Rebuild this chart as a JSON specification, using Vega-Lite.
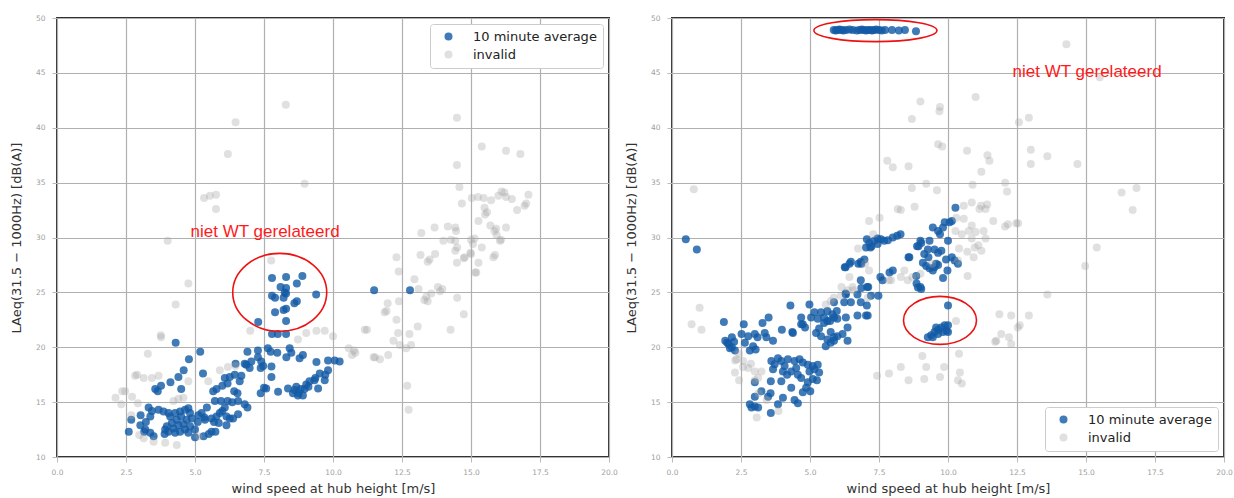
{
"$schema": "https://vega.github.io/schema/vega-lite/v6.json",
"padding": {"left": 9, "top": 13, "right": 4, "bottom": 4},
"spacing": 5,
"datasets": {
"left": [
{"x":7.79,"y":26.3,"s":"avg"},{"x":8.3,"y":26.4,"s":"avg"},{"x":8.89,"y":26.5,"s":"avg"},{"x":8.69,"y":25.8,"s":"avg"},{"x":8.1,"y":25.5,"s":"avg"},{"x":8.3,"y":25.4,"s":"avg"},{"x":7.79,"y":24.7,"s":"avg"},{"x":7.9,"y":24.5,"s":"avg"},{"x":8.21,"y":24.5,"s":"avg"},{"x":8.3,"y":24.9,"s":"avg"},{"x":9.39,"y":24.8,"s":"avg"},{"x":8.69,"y":24.2,"s":"avg"},{"x":8.6,"y":24.0,"s":"avg"},{"x":7.9,"y":23.2,"s":"avg"},{"x":8.21,"y":23.4,"s":"avg"},{"x":8.3,"y":23.5,"s":"avg"},{"x":8.3,"y":22.4,"s":"avg"},{"x":7.29,"y":22.3,"s":"avg"},{"x":8.25,"y":25.0,"s":"avg"},
{"x":11.49,"y":25.2,"s":"avg"},{"x":12.79,"y":25.2,"s":"avg"},
{"x":7.79,"y":21.2,"s":"avg"},{"x":8.0,"y":21.2,"s":"avg"},{"x":8.3,"y":21.2,"s":"avg"},
{"x":4.3,"y":20.4,"s":"avg"},{"x":5.19,"y":19.6,"s":"avg"},{"x":4.78,"y":18.9,"s":"avg"},{"x":4.59,"y":17.9,"s":"avg"},{"x":4.4,"y":17.3,"s":"avg"},{"x":5.29,"y":17.6,"s":"avg"},{"x":4.11,"y":16.8,"s":"avg"},{"x":3.77,"y":16.5,"s":"avg"},{"x":3.56,"y":16.2,"s":"avg"},{"x":3.65,"y":16.0,"s":"avg"},{"x":4.5,"y":16.2,"s":"avg"},
{"x":6.47,"y":18.5,"s":"avg"},{"x":6.8,"y":18.5,"s":"avg"},{"x":6.98,"y":18.1,"s":"avg"},
{"x":6.08,"y":17.2,"s":"avg"},{"x":6.26,"y":17.3,"s":"avg"},{"x":6.44,"y":17.5,"s":"avg"},{"x":6.68,"y":17.4,"s":"avg"},{"x":6.62,"y":16.9,"s":"avg"},{"x":6.18,"y":16.7,"s":"avg"},{"x":5.99,"y":16.5,"s":"avg"},{"x":5.78,"y":16.2,"s":"avg"},{"x":5.66,"y":16.0,"s":"avg"},{"x":6.42,"y":16.0,"s":"avg"},{"x":6.54,"y":15.8,"s":"avg"},
{"x":5.72,"y":15.1,"s":"avg"},{"x":5.94,"y":15.1,"s":"avg"},{"x":6.18,"y":15.1,"s":"avg"},{"x":6.35,"y":15.0,"s":"avg"},{"x":6.56,"y":15.1,"s":"avg"},{"x":6.8,"y":14.8,"s":"avg"},{"x":6.9,"y":14.5,"s":"avg"},
{"x":5.43,"y":14.5,"s":"avg"},{"x":5.24,"y":14.0,"s":"avg"},{"x":5.12,"y":13.8,"s":"avg"},{"x":5.34,"y":13.6,"s":"avg"},{"x":5.6,"y":13.5,"s":"avg"},{"x":5.78,"y":13.7,"s":"avg"},{"x":5.9,"y":14.0,"s":"avg"},{"x":5.99,"y":14.2,"s":"avg"},{"x":6.08,"y":14.5,"s":"avg"},{"x":6.14,"y":13.7,"s":"avg"},{"x":6.26,"y":13.5,"s":"avg"},{"x":5.69,"y":13.2,"s":"avg"},{"x":5.86,"y":13.1,"s":"avg"},{"x":6.14,"y":12.9,"s":"avg"},{"x":6.38,"y":13.5,"s":"avg"},{"x":6.56,"y":13.9,"s":"avg"},
{"x":5.36,"y":13.4,"s":"avg"},{"x":5.1,"y":13.2,"s":"avg"},{"x":5.0,"y":11.8,"s":"avg"},{"x":5.31,"y":11.9,"s":"avg"},{"x":5.5,"y":12.1,"s":"avg"},{"x":5.6,"y":12.3,"s":"avg"},{"x":5.74,"y":12.3,"s":"avg"},
{"x":2.69,"y":13.4,"s":"avg"},{"x":2.6,"y":12.3,"s":"avg"},
{"x":3.03,"y":13.8,"s":"avg"},{"x":3.32,"y":14.5,"s":"avg"},{"x":3.44,"y":14.2,"s":"avg"},{"x":3.38,"y":13.7,"s":"avg"},{"x":3.22,"y":13.2,"s":"avg"},{"x":3.02,"y":12.9,"s":"avg"},{"x":3.2,"y":12.5,"s":"avg"},{"x":3.38,"y":12.2,"s":"avg"},{"x":3.5,"y":11.9,"s":"avg"},
{"x":3.68,"y":14.3,"s":"avg"},{"x":3.86,"y":14.15,"s":"avg"},{"x":4.04,"y":14.0,"s":"avg"},{"x":4.1,"y":13.7,"s":"avg"},{"x":4.28,"y":14.0,"s":"avg"},{"x":4.46,"y":14.15,"s":"avg"},{"x":4.64,"y":14.3,"s":"avg"},{"x":4.76,"y":14.45,"s":"avg"},{"x":4.82,"y":14.0,"s":"avg"},{"x":4.5,"y":13.7,"s":"avg"},{"x":4.34,"y":13.4,"s":"avg"},{"x":4.16,"y":13.1,"s":"avg"},{"x":3.98,"y":12.8,"s":"avg"},{"x":3.92,"y":12.5,"s":"avg"},{"x":4.04,"y":12.3,"s":"avg"},{"x":4.22,"y":12.6,"s":"avg"},{"x":4.4,"y":12.9,"s":"avg"},{"x":4.58,"y":13.0,"s":"avg"},{"x":4.7,"y":13.4,"s":"avg"},{"x":4.88,"y":13.5,"s":"avg"},{"x":4.82,"y":12.8,"s":"avg"},{"x":4.64,"y":12.5,"s":"avg"},{"x":4.46,"y":12.3,"s":"avg"},{"x":4.28,"y":12.2,"s":"avg"},{"x":5.0,"y":12.5,"s":"avg"},{"x":4.76,"y":12.2,"s":"avg"},{"x":3.9,"y":12.1,"s":"avg"},{"x":3.16,"y":12.3,"s":"avg"},
{"x":6.9,"y":19.6,"s":"avg"},{"x":7.28,"y":19.7,"s":"avg"},{"x":7.28,"y":19.1,"s":"avg"},{"x":7.64,"y":19.9,"s":"avg"},{"x":7.74,"y":19.6,"s":"avg"},{"x":7.98,"y":19.5,"s":"avg"},{"x":7.4,"y":18.7,"s":"avg"},{"x":7.04,"y":18.7,"s":"avg"},{"x":6.86,"y":18.4,"s":"avg"},{"x":7.38,"y":18.1,"s":"avg"},{"x":7.77,"y":18.25,"s":"avg"},{"x":7.77,"y":17.3,"s":"avg"},{"x":8.43,"y":19.9,"s":"avg"},{"x":8.49,"y":19.5,"s":"avg"},{"x":8.31,"y":19.1,"s":"avg"},{"x":8.91,"y":19.3,"s":"avg"},{"x":8.79,"y":19.0,"s":"avg"},{"x":9.4,"y":18.65,"s":"avg"},{"x":9.82,"y":18.8,"s":"avg"},{"x":10.06,"y":18.8,"s":"avg"},{"x":10.24,"y":18.7,"s":"avg"},{"x":9.82,"y":17.9,"s":"avg"},{"x":9.52,"y":17.6,"s":"avg"},{"x":9.72,"y":17.5,"s":"avg"},{"x":9.36,"y":17.2,"s":"avg"},{"x":9.15,"y":16.9,"s":"avg"},{"x":9.03,"y":16.6,"s":"avg"},{"x":8.97,"y":16.2,"s":"avg"},{"x":8.83,"y":16.2,"s":"avg"},{"x":8.67,"y":16.4,"s":"avg"},{"x":8.55,"y":15.8,"s":"avg"},{"x":8.73,"y":15.6,"s":"avg"},{"x":8.91,"y":15.6,"s":"avg"},{"x":8.61,"y":16.1,"s":"avg"},{"x":8.37,"y":16.25,"s":"avg"},{"x":8.01,"y":15.95,"s":"avg"},{"x":7.58,"y":16.25,"s":"avg"},{"x":7.38,"y":15.8,"s":"avg"},{"x":9.46,"y":16.25,"s":"avg"},{"x":9.7,"y":17.0,"s":"avg"},{"x":9.33,"y":17.0,"s":"avg"},{"x":9.11,"y":16.4,"s":"avg"},{"x":8.76,"y":15.8,"s":"avg"},{"x":7.5,"y":16.3,"s":"avg"},{"x":7.47,"y":18.3,"s":"avg"},
{"x":8.29,"y":42.1,"s":"inv"},{"x":6.47,"y":40.5,"s":"inv"},{"x":6.19,"y":37.6,"s":"inv"},{"x":8.97,"y":34.9,"s":"inv"},{"x":5.33,"y":33.6,"s":"inv"},{"x":5.54,"y":33.8,"s":"inv"},{"x":5.76,"y":33.9,"s":"inv"},{"x":5.76,"y":32.6,"s":"inv"},{"x":4.01,"y":29.7,"s":"inv"},{"x":4.76,"y":25.8,"s":"inv"},{"x":7.76,"y":27.9,"s":"inv"},{"x":4.3,"y":23.9,"s":"inv"},{"x":3.76,"y":21.1,"s":"inv"},{"x":3.29,"y":19.4,"s":"inv"},
{"x":14.49,"y":40.9,"s":"inv"},{"x":15.39,"y":38.3,"s":"inv"},{"x":16.27,"y":37.9,"s":"inv"},{"x":16.79,"y":37.6,"s":"inv"},{"x":14.49,"y":36.6,"s":"inv"},{"x":14.58,"y":34.6,"s":"inv"},{"x":14.67,"y":33.1,"s":"inv"},{"x":15.03,"y":33.6,"s":"inv"},{"x":15.25,"y":33.7,"s":"inv"},{"x":15.46,"y":33.6,"s":"inv"},{"x":15.73,"y":33.4,"s":"inv"},{"x":15.49,"y":32.7,"s":"inv"},{"x":15.58,"y":32.3,"s":"inv"},{"x":15.51,"y":32.1,"s":"inv"},{"x":16.11,"y":34.2,"s":"inv"},{"x":16.21,"y":34.1,"s":"inv"},{"x":15.99,"y":33.8,"s":"inv"},{"x":16.27,"y":33.7,"s":"inv"},{"x":16.48,"y":33.5,"s":"inv"},{"x":17.08,"y":33.9,"s":"inv"},{"x":17.0,"y":33.1,"s":"inv"},{"x":16.67,"y":32.5,"s":"inv"},{"x":15.27,"y":31.5,"s":"inv"},{"x":15.7,"y":31.1,"s":"inv"},{"x":15.91,"y":30.8,"s":"inv"},{"x":15.85,"y":30.6,"s":"inv"},{"x":16.27,"y":30.9,"s":"inv"},{"x":16.09,"y":29.8,"s":"inv"},{"x":13.2,"y":30.4,"s":"inv"},{"x":13.68,"y":30.9,"s":"inv"},{"x":14.16,"y":31.0,"s":"inv"},{"x":14.43,"y":30.9,"s":"inv"},{"x":14.46,"y":30.6,"s":"inv"},{"x":14.0,"y":29.7,"s":"inv"},{"x":14.27,"y":29.8,"s":"inv"},{"x":14.43,"y":29.7,"s":"inv"},{"x":14.5,"y":29.1,"s":"inv"},{"x":14.43,"y":28.8,"s":"inv"},{"x":15.0,"y":29.8,"s":"inv"},{"x":15.13,"y":29.9,"s":"inv"},{"x":15.07,"y":29.4,"s":"inv"},{"x":15.39,"y":29.1,"s":"inv"},{"x":15.87,"y":28.4,"s":"inv"},{"x":13.17,"y":28.4,"s":"inv"},{"x":13.5,"y":28.0,"s":"inv"},{"x":13.7,"y":28.5,"s":"inv"},{"x":14.77,"y":28.2,"s":"inv"},{"x":15.0,"y":28.5,"s":"inv"},{"x":14.49,"y":27.7,"s":"inv"},{"x":15.27,"y":27.7,"s":"inv"},{"x":15.19,"y":26.8,"s":"inv"},{"x":12.3,"y":28.2,"s":"inv"},{"x":12.38,"y":26.9,"s":"inv"},{"x":12.95,"y":26.2,"s":"inv"},{"x":13.8,"y":25.5,"s":"inv"},{"x":13.38,"y":24.6,"s":"inv"},{"x":13.56,"y":24.9,"s":"inv"},
{"x":16.94,"y":32.9,"s":"inv"},{"x":15.93,"y":30.2,"s":"inv"},{"x":16.05,"y":29.7,"s":"inv"},{"x":14.98,"y":28.6,"s":"inv"},{"x":14.74,"y":28.1,"s":"inv"},{"x":15.81,"y":28.2,"s":"inv"},{"x":13.43,"y":27.8,"s":"inv"},{"x":15.15,"y":26.8,"s":"inv"},
{"x":13.1,"y":25.3,"s":"inv"},{"x":13.31,"y":24.3,"s":"inv"},{"x":13.43,"y":24.2,"s":"inv"},{"x":13.88,"y":25.1,"s":"inv"},{"x":13.96,"y":25.3,"s":"inv"},{"x":14.5,"y":24.5,"s":"inv"},{"x":14.74,"y":23.0,"s":"inv"},{"x":14.26,"y":21.6,"s":"inv"},{"x":11.98,"y":24.0,"s":"inv"},{"x":11.94,"y":23.3,"s":"inv"},{"x":12.3,"y":22.5,"s":"inv"},{"x":12.36,"y":21.3,"s":"inv"},{"x":11.23,"y":21.6,"s":"inv"},{"x":12.42,"y":20.2,"s":"inv"},{"x":12.77,"y":21.2,"s":"inv"},{"x":12.83,"y":20.2,"s":"inv"},{"x":12.65,"y":19.9,"s":"inv"},{"x":10.81,"y":19.5,"s":"inv"},{"x":10.69,"y":19.3,"s":"inv"},{"x":11.52,"y":19.1,"s":"inv"},{"x":11.7,"y":18.9,"s":"inv"},{"x":12.0,"y":19.3,"s":"inv"},{"x":12.69,"y":16.5,"s":"inv"},{"x":12.74,"y":14.3,"s":"inv"},{"x":13.07,"y":21.9,"s":"inv"},{"x":12.39,"y":24.2,"s":"inv"},{"x":10.0,"y":21.0,"s":"inv"},{"x":10.57,"y":19.9,"s":"inv"},
{"x":9.4,"y":21.5,"s":"inv"},{"x":9.7,"y":21.5,"s":"inv"},{"x":9.03,"y":21.3,"s":"inv"},{"x":8.73,"y":20.7,"s":"inv"},{"x":11.15,"y":21.6,"s":"inv"},{"x":11.87,"y":23.2,"s":"inv"},
{"x":3.77,"y":20.9,"s":"inv"},{"x":2.9,"y":17.5,"s":"inv"},{"x":3.14,"y":17.2,"s":"inv"},{"x":3.44,"y":17.2,"s":"inv"},{"x":3.68,"y":17.4,"s":"inv"},{"x":2.36,"y":16.0,"s":"inv"},{"x":2.12,"y":15.4,"s":"inv"},{"x":2.93,"y":14.9,"s":"inv"},{"x":2.72,"y":15.5,"s":"inv"},{"x":4.4,"y":15.3,"s":"inv"},{"x":4.22,"y":15.1,"s":"inv"},{"x":4.58,"y":15.4,"s":"inv"},{"x":4.76,"y":16.9,"s":"inv"},{"x":2.98,"y":12.0,"s":"inv"},{"x":3.14,"y":11.7,"s":"inv"},{"x":3.5,"y":11.4,"s":"inv"},{"x":3.92,"y":11.3,"s":"inv"},{"x":4.34,"y":11.1,"s":"inv"},{"x":5.12,"y":11.9,"s":"inv"},{"x":5.48,"y":16.9,"s":"inv"},{"x":2.47,"y":16.0,"s":"inv"},{"x":2.83,"y":17.4,"s":"inv"},{"x":2.33,"y":14.8,"s":"inv"},{"x":2.69,"y":13.8,"s":"inv"},
{"x":5.9,"y":17.9,"s":"inv"},{"x":6.19,"y":18.2,"s":"inv"},{"x":6.47,"y":18.3,"s":"inv"},{"x":7.0,"y":21.5,"s":"inv"},{"x":10.76,"y":19.7,"s":"inv"},{"x":11.47,"y":19.1,"s":"inv"},{"x":12.19,"y":20.6,"s":"inv"}
],
"right": [
{"x":5.86,"y":48.9,"s":"avg"},{"x":5.93,"y":48.85,"s":"avg"},{"x":6.0,"y":48.9,"s":"avg"},{"x":6.07,"y":48.95,"s":"avg"},{"x":6.14,"y":48.9,"s":"avg"},{"x":6.21,"y":48.85,"s":"avg"},{"x":6.3,"y":48.9,"s":"avg"},{"x":6.43,"y":48.95,"s":"avg"},{"x":6.55,"y":48.9,"s":"avg"},{"x":6.7,"y":48.85,"s":"avg"},{"x":6.8,"y":48.9,"s":"avg"},{"x":6.88,"y":48.95,"s":"avg"},{"x":6.95,"y":48.9,"s":"avg"},{"x":7.03,"y":48.85,"s":"avg"},{"x":7.1,"y":48.9,"s":"avg"},{"x":7.18,"y":48.9,"s":"avg"},{"x":7.25,"y":48.85,"s":"avg"},{"x":7.32,"y":48.9,"s":"avg"},{"x":7.4,"y":48.95,"s":"avg"},{"x":7.5,"y":48.9,"s":"avg"},{"x":7.6,"y":48.85,"s":"avg"},{"x":7.72,"y":48.9,"s":"avg"},{"x":7.97,"y":48.9,"s":"avg"},{"x":8.22,"y":48.85,"s":"avg"},{"x":8.44,"y":48.9,"s":"avg"},{"x":8.84,"y":48.8,"s":"avg"},
{"x":0.5,"y":29.85,"s":"avg"},{"x":0.9,"y":28.9,"s":"avg"},
{"x":1.88,"y":22.3,"s":"avg"},{"x":2.6,"y":22.1,"s":"avg"},{"x":3.28,"y":22.2,"s":"avg"},{"x":3.5,"y":22.7,"s":"avg"},{"x":4.29,"y":23.8,"s":"avg"},{"x":4.98,"y":23.9,"s":"avg"},{"x":5.87,"y":24.1,"s":"avg"},{"x":3.98,"y":21.6,"s":"avg"},{"x":4.38,"y":21.3,"s":"avg"},{"x":4.68,"y":22.7,"s":"avg"},{"x":4.74,"y":22.1,"s":"avg"},{"x":4.82,"y":21.8,"s":"avg"},{"x":5.04,"y":22.7,"s":"avg"},{"x":5.16,"y":23.2,"s":"avg"},{"x":5.28,"y":22.6,"s":"avg"},{"x":5.4,"y":23.2,"s":"avg"},{"x":5.63,"y":23.3,"s":"avg"},{"x":5.81,"y":23.0,"s":"avg"},{"x":5.99,"y":22.6,"s":"avg"},{"x":5.63,"y":22.4,"s":"avg"},{"x":5.51,"y":22.2,"s":"avg"},{"x":5.33,"y":21.7,"s":"avg"},{"x":5.22,"y":21.3,"s":"avg"},{"x":5.4,"y":21.0,"s":"avg"},{"x":5.63,"y":20.7,"s":"avg"},{"x":5.75,"y":20.4,"s":"avg"},{"x":5.87,"y":20.6,"s":"avg"},{"x":5.99,"y":21.0,"s":"avg"},{"x":5.57,"y":20.1,"s":"avg"},
{"x":1.93,"y":20.6,"s":"avg"},{"x":2.05,"y":20.3,"s":"avg"},{"x":2.17,"y":20.0,"s":"avg"},{"x":2.28,"y":19.7,"s":"avg"},{"x":2.17,"y":20.9,"s":"avg"},{"x":2.52,"y":21.2,"s":"avg"},{"x":2.76,"y":21.0,"s":"avg"},{"x":2.94,"y":20.1,"s":"avg"},{"x":3.03,"y":19.8,"s":"avg"},{"x":2.82,"y":19.7,"s":"avg"},{"x":2.64,"y":20.4,"s":"avg"},{"x":3.0,"y":21.2,"s":"avg"},{"x":3.1,"y":20.9,"s":"avg"},{"x":3.36,"y":21.3,"s":"avg"},{"x":3.42,"y":20.9,"s":"avg"},{"x":3.66,"y":20.6,"s":"avg"},{"x":2.0,"y":20.4,"s":"avg"},{"x":2.1,"y":19.9,"s":"avg"},{"x":2.25,"y":20.5,"s":"avg"},
{"x":3.6,"y":18.75,"s":"avg"},{"x":3.72,"y":18.45,"s":"avg"},{"x":3.66,"y":18.0,"s":"avg"},{"x":3.84,"y":19.0,"s":"avg"},{"x":3.96,"y":18.75,"s":"avg"},{"x":4.08,"y":18.3,"s":"avg"},{"x":4.02,"y":17.8,"s":"avg"},{"x":4.2,"y":18.9,"s":"avg"},{"x":4.44,"y":18.75,"s":"avg"},{"x":4.62,"y":18.9,"s":"avg"},{"x":4.74,"y":18.6,"s":"avg"},{"x":4.5,"y":18.1,"s":"avg"},{"x":4.32,"y":17.8,"s":"avg"},{"x":4.17,"y":17.5,"s":"avg"},{"x":4.56,"y":17.5,"s":"avg"},{"x":4.68,"y":17.2,"s":"avg"},{"x":4.92,"y":18.4,"s":"avg"},{"x":5.1,"y":18.3,"s":"avg"},{"x":5.28,"y":18.4,"s":"avg"},{"x":4.98,"y":17.8,"s":"avg"},{"x":5.16,"y":18.0,"s":"avg"},{"x":5.33,"y":17.7,"s":"avg"},{"x":5.25,"y":17.0,"s":"avg"},{"x":5.1,"y":17.1,"s":"avg"},{"x":4.92,"y":16.8,"s":"avg"},{"x":4.86,"y":16.3,"s":"avg"},{"x":5.01,"y":16.0,"s":"avg"},{"x":4.74,"y":15.9,"s":"avg"},{"x":3.58,"y":16.9,"s":"avg"},{"x":3.96,"y":16.9,"s":"avg"},{"x":4.32,"y":16.3,"s":"avg"},{"x":3.48,"y":15.5,"s":"avg"},{"x":3.0,"y":16.8,"s":"avg"},{"x":3.24,"y":16.0,"s":"avg"},{"x":2.82,"y":14.8,"s":"avg"},{"x":3.0,"y":14.6,"s":"avg"},{"x":3.12,"y":14.5,"s":"avg"},{"x":2.88,"y":14.5,"s":"avg"},{"x":3.84,"y":14.8,"s":"avg"},{"x":4.02,"y":15.4,"s":"avg"},{"x":4.44,"y":15.2,"s":"avg"},{"x":4.56,"y":14.9,"s":"avg"},{"x":3.58,"y":14.0,"s":"avg"},{"x":3.0,"y":15.5,"s":"avg"},{"x":3.57,"y":15.8,"s":"avg"},
{"x":4.68,"y":22.1,"s":"avg"},{"x":4.36,"y":21.4,"s":"avg"},{"x":5.51,"y":22.7,"s":"avg"},{"x":5.73,"y":22.4,"s":"avg"},{"x":5.87,"y":22.7,"s":"avg"},{"x":5.97,"y":23.3,"s":"avg"},{"x":5.75,"y":21.4,"s":"avg"},{"x":5.87,"y":20.9,"s":"avg"},{"x":6.36,"y":20.6,"s":"avg"},{"x":6.18,"y":21.2,"s":"avg"},{"x":6.36,"y":21.8,"s":"avg"},{"x":6.3,"y":22.7,"s":"avg"},{"x":6.72,"y":22.9,"s":"avg"},{"x":7.09,"y":22.9,"s":"avg"},{"x":7.06,"y":23.8,"s":"avg"},{"x":6.84,"y":24.1,"s":"avg"},{"x":6.48,"y":24.1,"s":"avg"},{"x":6.3,"y":24.8,"s":"avg"},{"x":6.24,"y":24.1,"s":"avg"},{"x":6.72,"y":24.8,"s":"avg"},{"x":7.11,"y":25.5,"s":"avg"},{"x":7.21,"y":24.7,"s":"avg"},{"x":7.48,"y":24.7,"s":"avg"},{"x":6.84,"y":26.1,"s":"avg"},{"x":7.55,"y":26.4,"s":"avg"},{"x":7.63,"y":26.1,"s":"avg"},{"x":6.26,"y":27.3,"s":"avg"},{"x":6.48,"y":27.8,"s":"avg"},{"x":6.75,"y":27.6,"s":"avg"},{"x":6.84,"y":27.8,"s":"avg"},
{"x":7.06,"y":29.85,"s":"avg"},{"x":7.15,"y":29.5,"s":"avg"},{"x":7.23,"y":29.2,"s":"avg"},{"x":7.33,"y":29.7,"s":"avg"},{"x":7.45,"y":29.9,"s":"avg"},{"x":7.45,"y":29.4,"s":"avg"},{"x":7.57,"y":29.85,"s":"avg"},{"x":7.69,"y":29.7,"s":"avg"},{"x":7.82,"y":29.75,"s":"avg"},{"x":8.0,"y":30.0,"s":"avg"},{"x":8.16,"y":30.15,"s":"avg"},{"x":8.28,"y":30.3,"s":"avg"},{"x":7.03,"y":29.1,"s":"avg"},{"x":7.19,"y":29.1,"s":"avg"},
{"x":8.0,"y":27.0,"s":"avg"},{"x":7.88,"y":26.8,"s":"avg"},{"x":8.57,"y":28.2,"s":"avg"},
{"x":8.88,"y":29.2,"s":"avg"},{"x":9.03,"y":29.5,"s":"avg"},{"x":9.33,"y":29.7,"s":"avg"},{"x":9.27,"y":28.9,"s":"avg"},{"x":9.51,"y":28.9,"s":"avg"},{"x":9.64,"y":28.6,"s":"avg"},{"x":9.76,"y":28.8,"s":"avg"},{"x":10.0,"y":29.7,"s":"avg"},{"x":9.45,"y":30.9,"s":"avg"},{"x":9.64,"y":30.6,"s":"avg"},{"x":9.82,"y":30.9,"s":"avg"},{"x":9.88,"y":31.4,"s":"avg"},{"x":10.06,"y":31.4,"s":"avg"},{"x":10.27,"y":32.7,"s":"avg"},
{"x":9.09,"y":27.7,"s":"avg"},{"x":9.21,"y":27.4,"s":"avg"},{"x":9.33,"y":27.2,"s":"avg"},{"x":9.51,"y":27.3,"s":"avg"},{"x":9.64,"y":27.5,"s":"avg"},{"x":9.45,"y":27.0,"s":"avg"},{"x":9.98,"y":27.0,"s":"avg"},{"x":9.82,"y":26.3,"s":"avg"},{"x":8.85,"y":26.5,"s":"avg"},{"x":8.91,"y":25.45,"s":"avg"},{"x":9.03,"y":25.3,"s":"avg"},{"x":10.24,"y":27.9,"s":"avg"},
{"x":10.0,"y":23.8,"s":"avg"},{"x":9.27,"y":20.9,"s":"avg"},{"x":9.39,"y":21.1,"s":"avg"},{"x":9.51,"y":21.4,"s":"avg"},{"x":9.64,"y":21.6,"s":"avg"},{"x":9.76,"y":21.8,"s":"avg"},{"x":9.88,"y":22.0,"s":"avg"},{"x":10.0,"y":22.0,"s":"avg"},{"x":9.94,"y":21.5,"s":"avg"},{"x":9.64,"y":21.2,"s":"avg"},{"x":9.45,"y":20.9,"s":"avg"},{"x":9.82,"y":21.4,"s":"avg"},{"x":9.57,"y":21.8,"s":"avg"},{"x":10.0,"y":21.4,"s":"avg"},
{"x":6.29,"y":24.9,"s":"avg"},{"x":6.86,"y":25.4,"s":"avg"},{"x":7.07,"y":25.5,"s":"avg"},{"x":7.03,"y":22.9,"s":"avg"},{"x":6.29,"y":27.3,"s":"avg"},{"x":6.43,"y":27.6,"s":"avg"},{"x":6.86,"y":27.6,"s":"avg"},{"x":6.97,"y":28.0,"s":"avg"},{"x":9.14,"y":28.5,"s":"avg"},{"x":9.29,"y":28.2,"s":"avg"},{"x":9.57,"y":27.6,"s":"avg"},{"x":9.93,"y":28.0,"s":"avg"},{"x":10.14,"y":28.2,"s":"avg"},{"x":10.36,"y":27.6,"s":"avg"},{"x":8.86,"y":25.8,"s":"avg"},{"x":9.0,"y":25.5,"s":"avg"},{"x":9.0,"y":29.7,"s":"avg"},{"x":8.6,"y":28.2,"s":"avg"},{"x":10.14,"y":31.5,"s":"avg"},{"x":9.71,"y":30.3,"s":"avg"},{"x":8.93,"y":29.2,"s":"avg"},
{"x":14.29,"y":47.6,"s":"inv"},{"x":15.5,"y":44.6,"s":"inv"},{"x":9.0,"y":42.4,"s":"inv"},{"x":11.0,"y":42.8,"s":"inv"},{"x":9.71,"y":41.9,"s":"inv"},{"x":9.69,"y":41.5,"s":"inv"},{"x":8.69,"y":40.8,"s":"inv"},{"x":12.57,"y":40.5,"s":"inv"},{"x":12.93,"y":40.9,"s":"inv"},{"x":9.64,"y":38.5,"s":"inv"},{"x":9.79,"y":38.3,"s":"inv"},{"x":10.69,"y":37.9,"s":"inv"},{"x":11.43,"y":37.5,"s":"inv"},{"x":11.5,"y":37.0,"s":"inv"},{"x":13.0,"y":38.0,"s":"inv"},{"x":13.6,"y":37.4,"s":"inv"},{"x":13.0,"y":36.7,"s":"inv"},{"x":14.69,"y":36.7,"s":"inv"},{"x":7.8,"y":37.0,"s":"inv"},{"x":8.0,"y":36.4,"s":"inv"},{"x":8.57,"y":36.5,"s":"inv"},{"x":11.21,"y":36.0,"s":"inv"},{"x":0.79,"y":34.4,"s":"inv"},{"x":8.69,"y":34.5,"s":"inv"},{"x":9.21,"y":34.9,"s":"inv"},{"x":9.6,"y":34.3,"s":"inv"},{"x":10.89,"y":34.8,"s":"inv"},{"x":12.07,"y":35.0,"s":"inv"},{"x":12.14,"y":34.2,"s":"inv"},{"x":16.29,"y":34.1,"s":"inv"},{"x":16.83,"y":34.5,"s":"inv"},{"x":16.69,"y":32.5,"s":"inv"},{"x":8.79,"y":32.8,"s":"inv"},{"x":8.29,"y":32.5,"s":"inv"},{"x":15.39,"y":29.1,"s":"inv"},{"x":14.97,"y":27.4,"s":"inv"},{"x":13.6,"y":24.8,"s":"inv"},{"x":12.54,"y":31.3,"s":"inv"},{"x":12.07,"y":31.0,"s":"inv"},{"x":11.64,"y":31.5,"s":"inv"},{"x":11.29,"y":30.6,"s":"inv"},{"x":10.93,"y":28.2,"s":"inv"},{"x":10.71,"y":26.5,"s":"inv"},
{"x":10.57,"y":32.9,"s":"inv"},{"x":10.86,"y":33.2,"s":"inv"},{"x":11.14,"y":32.6,"s":"inv"},{"x":11.36,"y":32.6,"s":"inv"},{"x":10.57,"y":31.7,"s":"inv"},{"x":10.86,"y":31.1,"s":"inv"},{"x":11.0,"y":30.5,"s":"inv"},{"x":11.36,"y":29.9,"s":"inv"},{"x":10.86,"y":29.9,"s":"inv"},{"x":10.5,"y":30.3,"s":"inv"},{"x":10.4,"y":29.0,"s":"inv"},{"x":10.7,"y":28.7,"s":"inv"},{"x":11.1,"y":29.3,"s":"inv"},{"x":10.3,"y":31.8,"s":"inv"},{"x":12.17,"y":31.2,"s":"inv"},{"x":12.47,"y":31.3,"s":"inv"},{"x":11.42,"y":33.0,"s":"inv"},{"x":11.2,"y":32.9,"s":"inv"},{"x":12.53,"y":21.8,"s":"inv"},{"x":11.75,"y":20.6,"s":"inv"},
{"x":12.93,"y":22.9,"s":"inv"},{"x":12.29,"y":22.9,"s":"inv"},{"x":11.86,"y":23.0,"s":"inv"},{"x":11.71,"y":20.5,"s":"inv"},{"x":11.93,"y":21.2,"s":"inv"},{"x":12.21,"y":20.9,"s":"inv"},{"x":12.6,"y":22.0,"s":"inv"},{"x":12.29,"y":20.3,"s":"inv"},{"x":10.29,"y":22.4,"s":"inv"},{"x":10.4,"y":19.4,"s":"inv"},{"x":10.43,"y":17.7,"s":"inv"},{"x":10.36,"y":17.0,"s":"inv"},{"x":10.5,"y":16.7,"s":"inv"},{"x":9.07,"y":19.2,"s":"inv"},{"x":9.21,"y":18.2,"s":"inv"},{"x":9.14,"y":17.1,"s":"inv"},{"x":9.71,"y":17.3,"s":"inv"},{"x":8.29,"y":18.2,"s":"inv"},{"x":7.86,"y":17.6,"s":"inv"},{"x":7.43,"y":17.4,"s":"inv"},{"x":8.57,"y":17.0,"s":"inv"},{"x":9.86,"y":18.2,"s":"inv"},
{"x":0.71,"y":22.1,"s":"inv"},{"x":1.0,"y":23.6,"s":"inv"},{"x":1.07,"y":21.6,"s":"inv"},{"x":2.29,"y":18.8,"s":"inv"},{"x":2.43,"y":19.4,"s":"inv"},{"x":2.57,"y":18.2,"s":"inv"},{"x":2.86,"y":18.5,"s":"inv"},{"x":3.0,"y":17.0,"s":"inv"},{"x":3.14,"y":15.8,"s":"inv"},{"x":2.43,"y":17.0,"s":"inv"},{"x":3.43,"y":15.2,"s":"inv"},{"x":3.07,"y":13.6,"s":"inv"},{"x":3.86,"y":14.2,"s":"inv"},{"x":2.34,"y":18.9,"s":"inv"},{"x":2.58,"y":18.75,"s":"inv"},{"x":2.76,"y":18.1,"s":"inv"},{"x":3.0,"y":17.8,"s":"inv"},{"x":2.28,"y":17.7,"s":"inv"},{"x":3.12,"y":17.2,"s":"inv"},{"x":3.24,"y":17.8,"s":"inv"},
{"x":7.14,"y":31.5,"s":"inv"},{"x":7.29,"y":30.3,"s":"inv"},{"x":6.74,"y":29.0,"s":"inv"},{"x":7.0,"y":27.6,"s":"inv"},{"x":7.14,"y":27.0,"s":"inv"},{"x":6.43,"y":26.4,"s":"inv"},{"x":6.14,"y":25.5,"s":"inv"},{"x":5.86,"y":24.5,"s":"inv"},{"x":5.57,"y":23.9,"s":"inv"},{"x":6.57,"y":25.2,"s":"inv"},{"x":7.86,"y":26.1,"s":"inv"},{"x":8.29,"y":26.4,"s":"inv"},{"x":9.0,"y":26.7,"s":"inv"},{"x":9.43,"y":27.6,"s":"inv"},{"x":8.71,"y":26.4,"s":"inv"},{"x":7.52,"y":31.8,"s":"inv"},{"x":8.18,"y":32.6,"s":"inv"},{"x":10.27,"y":30.6,"s":"inv"},{"x":10.75,"y":30.6,"s":"inv"},{"x":10.97,"y":29.1,"s":"inv"},{"x":11.21,"y":28.8,"s":"inv"},{"x":10.36,"y":27.9,"s":"inv"},{"x":6.54,"y":25.5,"s":"inv"},{"x":6.36,"y":25.2,"s":"inv"},{"x":7.09,"y":24.5,"s":"inv"},{"x":7.94,"y":26.1,"s":"inv"},{"x":8.42,"y":27.0,"s":"inv"},{"x":8.54,"y":26.1,"s":"inv"},{"x":5.75,"y":24.2,"s":"inv"},{"x":6.12,"y":24.7,"s":"inv"}
]
},
"resolve": {"scale": {"color": "independent"}, "legend": {"color": "independent"}},
"hconcat": [
{
"width": 552, "height": 439,
"encoding": {
"x": {"field": "x", "type": "quantitative", "scale": {"domain": [0, 20], "nice": false, "zero": false}, "axis": {"values": [0, 2.5, 5, 7.5, 10, 12.5, 15, 17.5, 20], "format": ".1f", "title": "wind speed at hub height [m/s]"}},
"y": {"field": "y", "type": "quantitative", "scale": {"domain": [10, 50], "nice": false, "zero": false}, "axis": {"values": [10, 15, 20, 25, 30, 35, 40, 45, 50], "format": "d", "title": "LAeq(31.5 − 1000Hz) [dB(A)]"}}
},
"layer": [
{"data": {"name": "left"}, "mark": {"type": "point", "filled": true, "size": 64, "opacity": 1, "strokeWidth": 0},
 "encoding": {"color": {"field": "s", "type": "nominal", "scale": {"domain": ["avg", "inv"], "range": ["rgba(18,90,165,0.8)", "rgba(165,165,165,0.34)"]}, "legend": {"orient": "top-right", "title": null, "labelExpr": "datum.label == 'avg' ? '10 minute average' : 'invalid'"}}}},
{"data": {"values": [{"x": 8.07, "y": 25.0}]}, "mark": {"type": "point", "shape": "M -1 0 C -1 -0.458 -0.5523 -0.83 0 -0.83 C 0.5523 -0.83 1 -0.458 1 0 C 1 0.458 0.5523 0.83 0 0.83 C -0.5523 0.83 -1 0.458 -1 0 Z", "size": 8836, "filled": false, "stroke": "#ee1111", "strokeWidth": 1.6, "opacity": 1}},
{"data": {"values": [{"x": 7.54, "y": 30.5, "t": "niet WT gerelateerd"}]}, "mark": {"type": "text", "font": "Liberation Sans", "fontSize": 17, "color": "#ff1a1a", "align": "center", "baseline": "middle"}, "encoding": {"text": {"field": "t"}}}
]
},
{
"width": 552, "height": 439,
"encoding": {
"x": {"field": "x", "type": "quantitative", "scale": {"domain": [0, 20], "nice": false, "zero": false}, "axis": {"values": [0, 2.5, 5, 7.5, 10, 12.5, 15, 17.5, 20], "format": ".1f", "title": "wind speed at hub height [m/s]"}},
"y": {"field": "y", "type": "quantitative", "scale": {"domain": [10, 50], "nice": false, "zero": false}, "axis": {"values": [10, 15, 20, 25, 30, 35, 40, 45, 50], "format": "d", "title": "LAeq(31.5 − 1000Hz) [dB(A)]"}}
},
"layer": [
{"data": {"name": "right"}, "mark": {"type": "point", "filled": true, "size": 64, "opacity": 1, "strokeWidth": 0},
 "encoding": {"color": {"field": "s", "type": "nominal", "scale": {"domain": ["avg", "inv"], "range": ["rgba(18,90,165,0.8)", "rgba(165,165,165,0.34)"]}, "legend": {"orient": "bottom-right", "title": null, "labelExpr": "datum.label == 'avg' ? '10 minute average' : 'invalid'"}}}},
{"data": {"values": [{"x": 7.37, "y": 48.85}]}, "mark": {"type": "point", "shape": "M -1 0 C -1 -0.099 -0.5523 -0.179 0 -0.179 C 0.5523 -0.179 1 -0.099 1 0 C 1 0.099 0.5523 0.179 0 0.179 C -0.5523 0.179 -1 0.099 -1 0 Z", "size": 15129, "filled": false, "stroke": "#ee1111", "strokeWidth": 1.6, "opacity": 1}},
{"data": {"values": [{"x": 9.71, "y": 22.45}]}, "mark": {"type": "point", "shape": "M -1 0 C -1 -0.363 -0.5523 -0.658 0 -0.658 C 0.5523 -0.658 1 -0.363 1 0 C 1 0.363 0.5523 0.658 0 0.658 C -0.5523 0.658 -1 0.363 -1 0 Z", "size": 5329, "filled": false, "stroke": "#ee1111", "strokeWidth": 1.6, "opacity": 1}},
{"data": {"values": [{"x": 15.04, "y": 45.1, "t": "niet WT gerelateerd"}]}, "mark": {"type": "text", "font": "Liberation Sans", "fontSize": 17, "color": "#ff1a1a", "align": "center", "baseline": "middle"}, "encoding": {"text": {"field": "t"}}}
]
}
],
"config": {
"font": "DejaVu Sans",
"view": {"stroke": "#333333", "strokeWidth": 2},
"axis": {"domain": false, "grid": true, "gridColor": "#b0b0b0", "gridWidth": 1.2, "ticks": true, "tickColor": "#bbbbbb", "tickSize": 5, "labelFont": "DejaVu Sans", "labelFontSize": 7.5, "labelColor": "#a0a0a0", "labelFlush": false, "labelOverlap": false, "titleFont": "DejaVu Sans", "titleFontSize": 13, "titleFontWeight": "normal", "titleColor": "#333333"},
"axisX": {"labelPadding": 6, "titlePadding": 7},
"axisY": {"labelPadding": 7, "titlePadding": 12},
"legend": {"strokeColor": "#cccccc", "fillColor": "#ffffff", "padding": 6, "cornerRadius": 3, "labelFont": "DejaVu Sans", "labelFontSize": 13, "labelColor": "#222222", "symbolType": "circle", "symbolSize": 64, "symbolStrokeWidth": 0, "symbolOffset": 6, "rowPadding": 4, "labelOffset": 18, "offset": 6}
}
}
